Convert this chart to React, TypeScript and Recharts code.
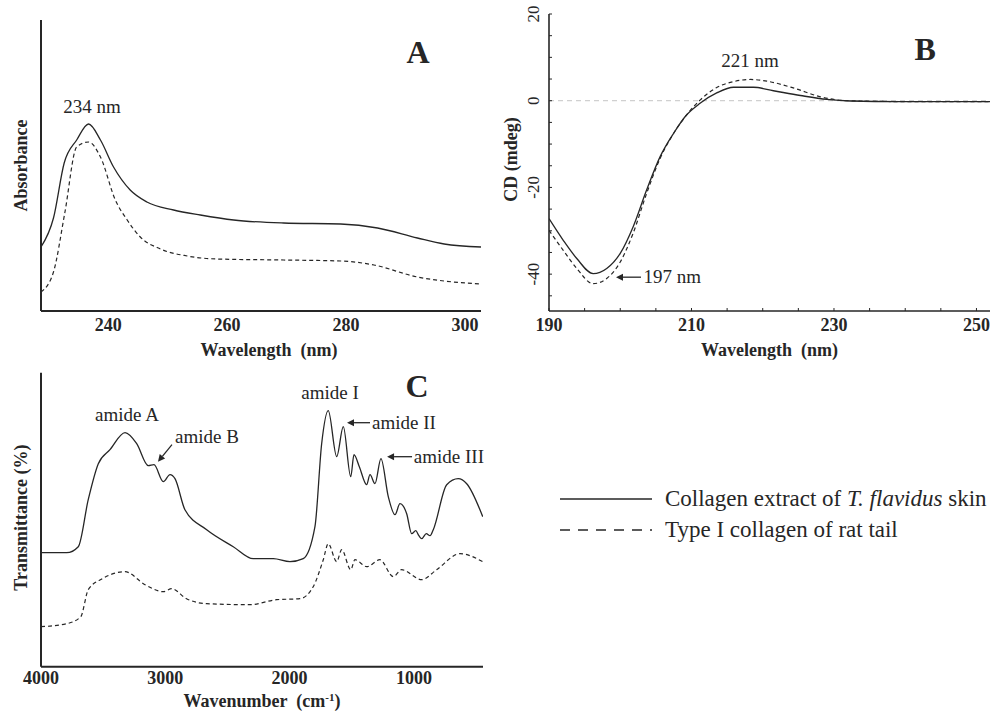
import React from 'react';
import { LineChart, Line, XAxis, YAxis, ReferenceLine, ReferenceDot, Legend } from 'recharts';

const SERIF = '"Liberation Serif", "Times New Roman", serif';
const INK = '#262626';

const SKIN = 'Collagen extract of T. flavidus skin';
const RAT = 'Type I collagen of rat tail';

// A - UV absorption
const uvSkinNm = [228.7, 230.8, 232.6, 234.7, 236.7, 238.7, 240.9, 243.7, 246.5, 251, 255.5, 261.1, 269.5, 279.1, 285.3, 292, 296.5, 302.7];
const uvSkinAbs = [0.64, 0.93, 1.48, 1.71, 1.87, 1.71, 1.44, 1.21, 1.09, 1.01, 0.96, 0.91, 0.88, 0.87, 0.83, 0.73, 0.67, 0.64];
const uvRatNm = [228.7, 230.8, 232.7, 234.7, 236.7, 238.7, 241.2, 243.2, 245.4, 248.8, 253.3, 258.3, 269.5, 279.1, 284.7, 292, 296.5, 302.7];
const uvRatAbs = [0.19, 0.39, 0.98, 1.64, 1.69, 1.54, 1.11, 0.91, 0.74, 0.62, 0.55, 0.52, 0.51, 0.5, 0.46, 0.34, 0.3, 0.27];
const uvTicks = [240, 260, 280, 300];

// B - circular dichroism
const cdSkinNm = [190, 192, 193.9, 196.2, 198.1, 200, 201.8, 203.7, 205.6, 207.5, 209.3, 211.2, 213.6, 215.9, 218.7, 221.5, 225.3, 229, 232.3, 239.3, 251.9];
const cdSkinMdeg = [-27.2, -32.2, -36.4, -39.9, -38.7, -35.2, -29.1, -20.6, -12.9, -7.5, -3.3, -0.6, 1.85, 3.1, 3.1, 2.3, 1.2, 0.3, -0.07, -0.2, -0.2];
const cdRatNm = [190, 192, 193.9, 196.2, 198.1, 200, 201.8, 203.7, 205.6, 207.5, 209.3, 211.2, 213.6, 215.9, 218.3, 220.6, 224.4, 228.1, 231.8, 240, 251.9];
const cdRatMdeg = [-29.9, -34.5, -38.7, -42.2, -41.0, -37.2, -30.6, -21.4, -13.3, -7.5, -3.3, 0.15, 3.1, 4.4, 4.9, 4.5, 2.9, 0.9, 0, -0.2, -0.2];
const cdXTicks = [190, 195, 200, 205, 210, 215, 220, 225, 230, 235, 240, 245, 250];
const cdXLabelled = [190, 210, 230, 250];
const cdYTicks = [-45, -40, -35, -30, -25, -20, -15, -10, -5, 0, 5, 10, 15, 20];
const cdYLabelled = [-40, -20, 0, 20];

// C - FTIR
const irSkinWn = [4000, 3793, 3700, 3620, 3539, 3445, 3324, 3230, 3137, 3091, 3016, 2962, 2922, 2842, 2667, 2453, 2292, 2131, 1997, 1890, 1796, 1742, 1689, 1621, 1568, 1508, 1482, 1439, 1380, 1353, 1313, 1265, 1206, 1152, 1112, 1058, 1018, 985, 960, 937, 900, 870, 844, 736, 643, 575, 446];
const irSkinT = [1.14, 1.14, 1.2, 1.67, 2.03, 2.17, 2.34, 2.23, 2.01, 2.02, 1.85, 1.92, 1.88, 1.57, 1.37, 1.2, 1.08, 1.08, 1.05, 1.08, 1.4, 2.23, 2.56, 2.1, 2.4, 1.9, 2.12, 2.0, 1.82, 1.92, 1.83, 2.08, 1.7, 1.52, 1.63, 1.53, 1.33, 1.36, 1.31, 1.28, 1.33, 1.31, 1.37, 1.82, 1.88, 1.83, 1.5];
const irRatWn = [4000, 3793, 3680, 3620, 3507, 3324, 3163, 3016, 2949, 2829, 2667, 2319, 2104, 1917, 1810, 1729, 1689, 1621, 1581, 1508, 1474, 1380, 1273, 1166, 1099, 937, 817, 629, 446];
const irRatT = [0.4, 0.43, 0.5, 0.77, 0.88, 0.95, 0.82, 0.75, 0.78, 0.68, 0.63, 0.62, 0.67, 0.68, 0.8, 1.07, 1.23, 1.05, 1.17, 0.97, 1.07, 1.0, 1.07, 0.9, 0.97, 0.87, 0.97, 1.13, 1.05];
const irTicks = [4000, 3000, 2000, 1000];

// annotations (data coordinates)
const uvNotes = [{ x: 237.3, y: 2.04, text: '234 nm' }];
const cdNotes = [
  { x: 218.2, y: 9.2, text: '221 nm' },
  { x: 207.3, y: -40.7, text: '197 nm' },
];
const cdArrows = [{ x: 199.4, y: -40.7, dx: 25, dy: 0 }];
const irNotes = [
  { x: 3308, y: 2.52, text: 'amide A' },
  { x: 2665, y: 2.3, text: 'amide B' },
  { x: 1675, y: 2.74, text: 'amide I' },
  { x: 1080, y: 2.44, text: 'amide II' },
  { x: 718, y: 2.1, text: 'amide III' },
];
const irArrows = [
  { x: 3059, y: 2.05, dx: 14, dy: -17 },
  { x: 1538, y: 2.44, dx: 23, dy: 0 },
  { x: 1216, y: 2.1, dx: 25, dy: 0 },
];

const zip = (xs: number[], ys: number[]) => xs.map((x, i) => ({ x, y: ys[i] }));

const axisFont = { fontFamily: SERIF, fontSize: 18, fontWeight: 'bold' as const, fill: INK };

const noteShape = (text: string, size = 19, weight = 'normal') => (p: any) => (
  <text x={p.cx} y={p.cy} dy="0.33em" textAnchor="middle" fontFamily={SERIF} fontSize={size} fontWeight={weight} fill={INK} style={{ whiteSpace: 'pre' }}>
    {text}
  </text>
);

const arrowShape = (dx: number, dy: number) => (p: any) => {
  const len = Math.hypot(dx, dy);
  const ux = dx / len;
  const uy = dy / len;
  const bx = p.cx + ux * 7;
  const by = p.cy + uy * 7;
  return (
    <g>
      <line x1={bx} y1={by} x2={p.cx + dx} y2={p.cy + dy} stroke={INK} strokeWidth={1.3} />
      <polygon points={`${p.cx},${p.cy} ${bx - uy * 3.5},${by + ux * 3.5} ${bx + uy * 3.5},${by - ux * 3.5}`} fill={INK} />
    </g>
  );
};

const xTitle = (dx: number, dy: number, children: React.ReactNode) => (props: any) => {
  const vb = props.viewBox;
  return (
    <text x={vb.x + vb.width / 2 + dx} y={vb.y + dy} textAnchor="middle" {...axisFont} style={{ whiteSpace: 'pre' }}>
      {children}
    </text>
  );
};

const yTitle = (text: string, dx: number, dy = 0) => (props: any) => {
  const vb = props.viewBox;
  const cx = vb.x + dx;
  const cy = vb.y + vb.height / 2 + dy;
  return (
    <text x={cx} y={cy} transform={`rotate(-90 ${cx} ${cy})`} textAnchor="middle" {...axisFont}>
      {text}
    </text>
  );
};

function CdXTick({ x, y, payload }: any) {
  const v = payload.value;
  return (
    <g>
      <line x1={x} x2={x} y1={y - 7} y2={y - 10} stroke={INK} strokeWidth={1} />
      {cdXLabelled.includes(v) && (
        <text x={x} y={y} dy="0.71em" textAnchor="middle" {...axisFont}>
          {v}
        </text>
      )}
    </g>
  );
}

function CdYTick({ x, y, payload }: any) {
  const v = payload.value;
  return (
    <g>
      <line x1={x + 10} x2={x + 13} y1={y} y2={y} stroke={INK} strokeWidth={1} />
      {cdYLabelled.includes(v) && (
        <text x={x} y={y} transform={`rotate(-90 ${x} ${y})`} textAnchor="middle" fontFamily={SERIF} fontSize={17} fill={INK}>
          {v}
        </text>
      )}
    </g>
  );
}

function seriesLabel(name: string) {
  if (name === SKIN) {
    return (
      <>
        Collagen extract of <i>T. flavidus</i> skin
      </>
    );
  }
  return name;
}

function LegendContent({ payload }: any) {
  const items = payload && payload.length ? payload.map((p: any) => p.value) : [SKIN, RAT];
  return (
    <div>
      {items.map((name: string) => (
        <div key={name} style={{ display: 'flex', alignItems: 'center', height: 31 }}>
          <svg width={92} height={6}>
            <line x1={0} x2={92} y1={3} y2={3} stroke={INK} strokeWidth={1.6} strokeDasharray={name === RAT ? '10 8' : undefined} />
          </svg>
          <span style={{ marginLeft: 13, fontFamily: SERIF, fontSize: 23, color: INK, whiteSpace: 'nowrap' }}>{seriesLabel(name)}</span>
        </div>
      ))}
    </div>
  );
}

const solid = { stroke: INK, strokeWidth: 1.3, dot: false, isAnimationActive: false, type: 'monotone' as const };
const dashed = { ...solid, strokeWidth: 1.2, strokeDasharray: '4 3' };

export default function App() {
  return (
    <div style={{ position: 'absolute', left: 0, top: 0, width: 994, height: 711, background: '#fff' }}>
      {/* A */}
      <div style={{ position: 'absolute', left: 0, top: 0 }}>
        <LineChart width={500} height={370} margin={{ top: 20, right: 19, left: 40, bottom: 0 }}>
          <XAxis
            type="number"
            dataKey="x"
            domain={[228.7, 302.7]}
            allowDataOverflow
            ticks={uvTicks}
            height={59}
            tickSize={0}
            tickMargin={7}
            tick={axisFont}
            axisLine={{ stroke: INK, strokeWidth: 2 }}
            label={xTitle(8, 45, 'Wavelength  (nm)')}
          />
          <YAxis
            type="number"
            domain={[0, 2.91]}
            allowDataOverflow
            width={1}
            tick={false}
            tickLine={false}
            axisLine={{ stroke: INK, strokeWidth: 2 }}
            label={yTitle('Absorbance', -13)}
          />
          <Line data={zip(uvSkinNm, uvSkinAbs)} dataKey="y" name={SKIN} {...solid} />
          <Line data={zip(uvRatNm, uvRatAbs)} dataKey="y" name={RAT} {...dashed} />
          {uvNotes.map((n) => (
            <ReferenceDot key={n.text} x={n.x} y={n.y} r={0} shape={noteShape(n.text)} />
          ))}
          <ReferenceDot x={292.1} y={2.59} r={0} shape={noteShape('A', 32, 'bold')} />
        </LineChart>
      </div>

      {/* B */}
      <div style={{ position: 'absolute', left: 500, top: 0 }}>
        <LineChart width={494} height={370} margin={{ top: 14, right: 4, left: 0, bottom: 0 }}>
          <ReferenceLine y={0} stroke="#c4c4c4" strokeDasharray="5 4" strokeWidth={1} />
          <XAxis
            type="number"
            dataKey="x"
            domain={[190, 251.9]}
            allowDataOverflow
            ticks={cdXTicks}
            interval={0}
            height={59}
            tickSize={0}
            tickMargin={7}
            tick={<CdXTick />}
            axisLine={{ stroke: INK, strokeWidth: 1.6 }}
            label={xTitle(0, 45, 'Wavelength  (nm)')}
          />
          <YAxis
            type="number"
            domain={[-48.5, 20]}
            allowDataOverflow
            ticks={cdYTicks}
            interval={0}
            width={49}
            tickSize={0}
            tickMargin={10}
            tick={<CdYTick />}
            axisLine={{ stroke: INK, strokeWidth: 1.6 }}
            label={yTitle('CD (mdeg)', 17, -3)}
          />
          <Line data={zip(cdSkinNm, cdSkinMdeg)} dataKey="y" name={SKIN} {...solid} />
          <Line data={zip(cdRatNm, cdRatMdeg)} dataKey="y" name={RAT} {...dashed} />
          {cdNotes.map((n) => (
            <ReferenceDot key={n.text} x={n.x} y={n.y} r={0} shape={noteShape(n.text)} />
          ))}
          {cdArrows.map((a, i) => (
            <ReferenceDot key={i} x={a.x} y={a.y} r={0} shape={arrowShape(a.dx, a.dy)} />
          ))}
          <ReferenceDot x={242.8} y={11.9} r={0} shape={noteShape('B', 32, 'bold')} />
        </LineChart>
      </div>

      {/* C */}
      <div style={{ position: 'absolute', left: 0, top: 360 }}>
        <LineChart width={994} height={351} margin={{ top: 12.7, right: 511, left: 40, bottom: 0 }}>
          <XAxis
            type="number"
            dataKey="x"
            domain={[444, 4000]}
            reversed
            allowDataOverflow
            ticks={irTicks}
            height={44.3}
            tickSize={0}
            tickMargin={4.5}
            tick={axisFont}
            axisLine={{ stroke: INK, strokeWidth: 2 }}
            label={xTitle(
              0,
              40,
              <>
                {'Wavenumber  (cm'}
                <tspan dy={-6} fontSize={11}>
                  -1
                </tspan>
                <tspan dy={6}>)</tspan>
              </>
            )}
          />
          <YAxis
            type="number"
            domain={[0, 2.94]}
            allowDataOverflow
            width={1}
            tick={false}
            tickLine={false}
            axisLine={{ stroke: INK, strokeWidth: 2 }}
            label={yTitle('Transmittance (%)', -13, -2)}
          />
          <Line data={zip(irSkinWn, irSkinT)} dataKey="y" name={SKIN} {...solid} />
          <Line data={zip(irRatWn, irRatT)} dataKey="y" name={RAT} {...dashed} />
          {irNotes.map((n) => (
            <ReferenceDot key={n.text} x={n.x} y={n.y} r={0} shape={noteShape(n.text)} />
          ))}
          {irArrows.map((a, i) => (
            <ReferenceDot key={i} x={a.x} y={a.y} r={0} shape={arrowShape(a.dx, a.dy)} />
          ))}
          <ReferenceDot x={975} y={2.8} r={0} shape={noteShape('C', 32, 'bold')} />
          <Legend
            layout="horizontal"
            verticalAlign="middle"
            align="center"
            wrapperStyle={{ left: 560, top: 123.5, width: 434 }}
            content={<LegendContent />}
          />
        </LineChart>
      </div>
    </div>
  );
}
